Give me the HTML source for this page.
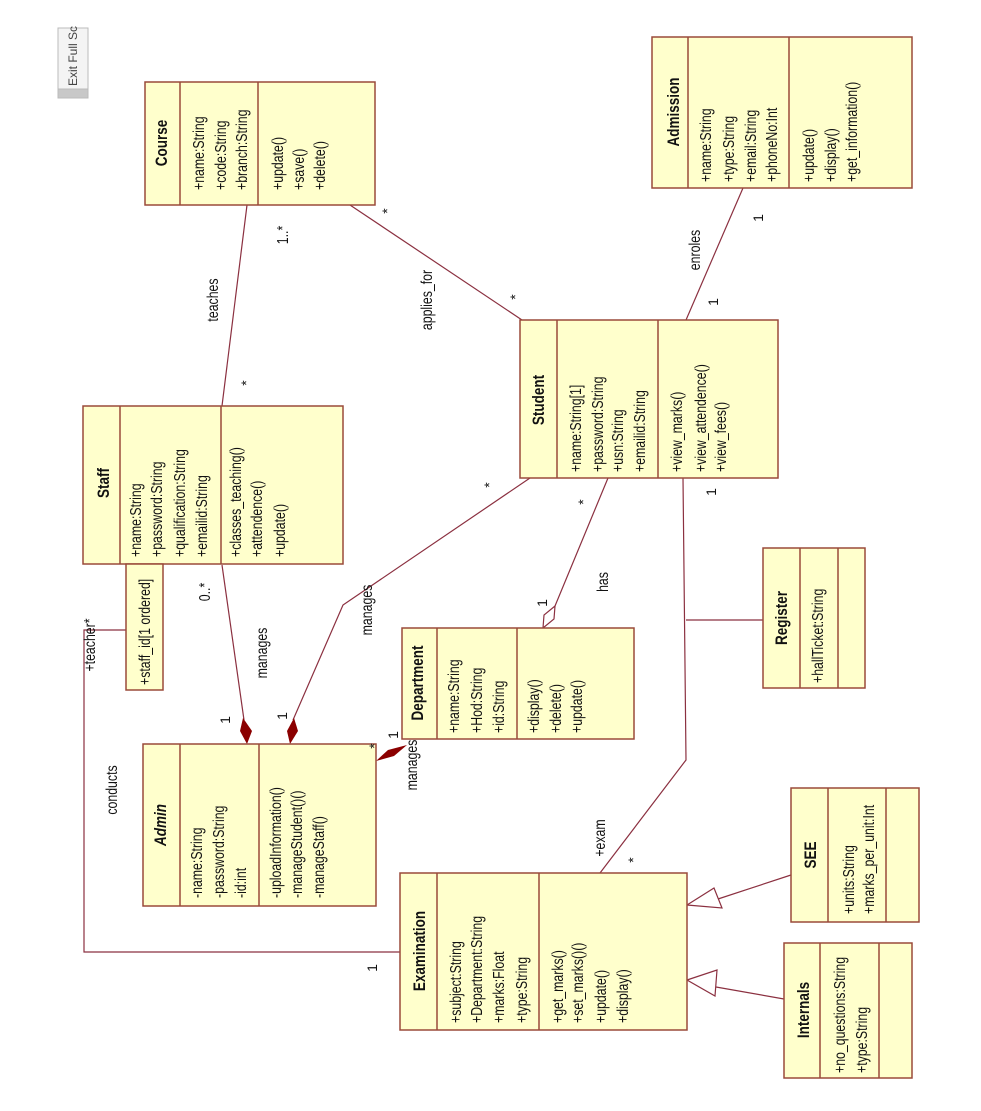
<!DOCTYPE html>
<html><head><meta charset="utf-8"><style>
html,body{margin:0;padding:0;background:#fff;}
svg{display:block;}
text{font-family:"Liberation Sans",sans-serif;font-size:14px;fill:#111;}
.t{font-weight:bold;font-size:15px;}
.b{fill:#ffffcc;stroke:#9a4a3a;stroke-width:1.5;}
.d{stroke:#9a4a3a;stroke-width:1.5;}
.l{stroke:#8b3040;stroke-width:1.2;fill:none;}
</style></head><body>
<svg width="981" height="1111" viewBox="0 0 981 1111" xmlns="http://www.w3.org/2000/svg">
<rect x="58" y="28" width="30" height="70" fill="#f4f4f4" stroke="#bbb"/>
<rect x="58" y="89" width="30" height="9" fill="#c8c8c8" stroke="#bbb"/>
<text transform="translate(77,86) rotate(-90)" style="font-size:12px;fill:#444">Exit Full Sc</text>

<g class="l">
<line x1="247" y1="205" x2="222" y2="406"/>
<line x1="347" y1="203" x2="522" y2="320"/>
<line x1="743" y1="188" x2="686" y2="320"/>
<polyline points="530,478 343,605 293,720"/>
<line x1="222" y1="565" x2="244" y2="720"/>
<polyline points="608,478 555,606"/>
<polyline points="683,478 686,760 600,873"/>
<line x1="686" y1="620" x2="763" y2="620"/>
<polyline points="127,630 84,630 84,952 401,952"/>
<line x1="791" y1="875" x2="718" y2="899"/>
<line x1="784" y1="999" x2="716" y2="987"/>
</g>
<polygon points="247,744 240,731 243,718 252,731" fill="#8b0000"/>
<polygon points="290,744 287,731 294,718 298,731" fill="#8b0000"/>
<polygon points="376,761 388,750 407,745 394,756" fill="#8b0000"/>
<polygon points="543,628 544,615 555,606 554,619" fill="#fff" stroke="#8b3040" stroke-width="1.2"/>
<polygon points="687,905 714,888 722,908" fill="#fff" stroke="#8b3040" stroke-width="1.2"/>
<polygon points="687,980 717,970 715,996" fill="#fff" stroke="#8b3040" stroke-width="1.2"/>

<!-- Course -->
<rect class="b" x="145" y="82" width="230" height="123"/>
<line class="d" x1="180" y1="82" x2="180" y2="205"/><line class="d" x1="258" y1="82" x2="258" y2="205"/>
<text class="t" text-anchor="middle" transform="translate(167,143) rotate(-90) scale(0.9,1.12)">Course</text>
<text transform="translate(204,190) rotate(-90) scale(0.88,1.12)">+name:String</text>
<text transform="translate(226,190) rotate(-90) scale(0.88,1.12)">+code:String</text>
<text transform="translate(247,190) rotate(-90) scale(0.88,1.12)">+branch:String</text>
<text transform="translate(283,190) rotate(-90) scale(0.88,1.12)">+update()</text>
<text transform="translate(304,190) rotate(-90) scale(0.88,1.12)">+save()</text>
<text transform="translate(325,190) rotate(-90) scale(0.88,1.12)">+delete()</text>

<!-- Admission -->
<rect class="b" x="652" y="37" width="260" height="151"/>
<line class="d" x1="688" y1="37" x2="688" y2="188"/><line class="d" x1="789" y1="37" x2="789" y2="188"/>
<text class="t" text-anchor="middle" transform="translate(679,112) rotate(-90) scale(0.9,1.12)">Admission</text>
<text transform="translate(711,182) rotate(-90) scale(0.88,1.12)">+name:String</text>
<text transform="translate(734,182) rotate(-90) scale(0.88,1.12)">+type:String</text>
<text transform="translate(756,182) rotate(-90) scale(0.88,1.12)">+email:String</text>
<text transform="translate(777,182) rotate(-90) scale(0.88,1.12)">+phoneNo:Int</text>
<text transform="translate(814,182) rotate(-90) scale(0.88,1.12)">+update()</text>
<text transform="translate(836,182) rotate(-90) scale(0.88,1.12)">+display()</text>
<text transform="translate(857,182) rotate(-90) scale(0.88,1.12)">+get_information()</text>

<!-- Staff -->
<rect class="b" x="83" y="406" width="260" height="158"/>
<line class="d" x1="120" y1="406" x2="120" y2="564"/><line class="d" x1="221" y1="406" x2="221" y2="564"/>
<text class="t" text-anchor="middle" transform="translate(109,483) rotate(-90) scale(0.9,1.12)">Staff</text>
<text transform="translate(141,557) rotate(-90) scale(0.88,1.12)">+name:String</text>
<text transform="translate(162,557) rotate(-90) scale(0.88,1.12)">+password:String</text>
<text transform="translate(185,557) rotate(-90) scale(0.88,1.12)">+qualification:String</text>
<text transform="translate(207,557) rotate(-90) scale(0.88,1.12)">+emailid:String</text>
<text transform="translate(241,557) rotate(-90) scale(0.88,1.12)">+classes_teaching()</text>
<text transform="translate(262,557) rotate(-90) scale(0.88,1.12)">+attendence()</text>
<text transform="translate(285,557) rotate(-90) scale(0.88,1.12)">+update()</text>
<rect class="b" x="126" y="564" width="37" height="126"/>
<text transform="translate(150,685) rotate(-90) scale(0.88,1.12)">+staff_id[1 ordered]</text>

<!-- Student -->
<rect class="b" x="520" y="320" width="258" height="158"/>
<line class="d" x1="557" y1="320" x2="557" y2="478"/><line class="d" x1="658" y1="320" x2="658" y2="478"/>
<text class="t" text-anchor="middle" transform="translate(544,400) rotate(-90) scale(0.9,1.12)">Student</text>
<text transform="translate(581,472) rotate(-90) scale(0.88,1.12)">+name:String[1]</text>
<text transform="translate(603,472) rotate(-90) scale(0.88,1.12)">+password:String</text>
<text transform="translate(623,472) rotate(-90) scale(0.88,1.12)">+usn:String</text>
<text transform="translate(645,472) rotate(-90) scale(0.88,1.12)">+emailid:String</text>
<text transform="translate(682,472) rotate(-90) scale(0.88,1.12)">+view_marks()</text>
<text transform="translate(706,472) rotate(-90) scale(0.88,1.12)">+view_attendence()</text>
<text transform="translate(726,472) rotate(-90) scale(0.88,1.12)">+view_fees()</text>

<!-- Register -->
<rect class="b" x="763" y="548" width="102" height="140"/>
<line class="d" x1="800" y1="548" x2="800" y2="688"/><line class="d" x1="838" y1="548" x2="838" y2="688"/>
<text class="t" text-anchor="middle" transform="translate(787,618) rotate(-90) scale(0.9,1.12)">Register</text>
<text transform="translate(823,683) rotate(-90) scale(0.88,1.12)">+hallTicket:String</text>

<!-- Department -->
<rect class="b" x="402" y="628" width="232" height="111"/>
<line class="d" x1="437" y1="628" x2="437" y2="739"/><line class="d" x1="517" y1="628" x2="517" y2="739"/>
<text class="t" text-anchor="middle" transform="translate(423,683) rotate(-90) scale(0.9,1.12)">Department</text>
<text transform="translate(459,733) rotate(-90) scale(0.88,1.12)">+name:String</text>
<text transform="translate(482,733) rotate(-90) scale(0.88,1.12)">+Hod:String</text>
<text transform="translate(504,733) rotate(-90) scale(0.88,1.12)">+id:String</text>
<text transform="translate(539,733) rotate(-90) scale(0.88,1.12)">+display()</text>
<text transform="translate(561,733) rotate(-90) scale(0.88,1.12)">+delete()</text>
<text transform="translate(582,733) rotate(-90) scale(0.88,1.12)">+update()</text>

<!-- Admin -->
<rect class="b" x="143" y="744" width="233" height="162"/>
<line class="d" x1="180" y1="744" x2="180" y2="906"/><line class="d" x1="259" y1="744" x2="259" y2="906"/>
<text class="t" text-anchor="middle" font-style="italic" transform="translate(166,825) rotate(-90) scale(0.9,1.12)">Admin</text>
<text transform="translate(202,898) rotate(-90) scale(0.88,1.12)">-name:String</text>
<text transform="translate(224,898) rotate(-90) scale(0.88,1.12)">-password:String</text>
<text transform="translate(246,898) rotate(-90) scale(0.88,1.12)">-id:int</text>
<text transform="translate(281,898) rotate(-90) scale(0.88,1.12)">-uploadInformation()</text>
<text transform="translate(302,898) rotate(-90) scale(0.88,1.12)">-manageStudent()()</text>
<text transform="translate(324,898) rotate(-90) scale(0.88,1.12)">-manageStaff()</text>

<!-- Examination -->
<rect class="b" x="400" y="873" width="287" height="157"/>
<line class="d" x1="437" y1="873" x2="437" y2="1030"/><line class="d" x1="539" y1="873" x2="539" y2="1030"/>
<text class="t" text-anchor="middle" transform="translate(425,951) rotate(-90) scale(0.9,1.12)">Examination</text>
<text transform="translate(461,1023) rotate(-90) scale(0.88,1.12)">+subject:String</text>
<text transform="translate(482,1023) rotate(-90) scale(0.88,1.12)">+Department:String</text>
<text transform="translate(504,1023) rotate(-90) scale(0.88,1.12)">+marks:Float</text>
<text transform="translate(527,1023) rotate(-90) scale(0.88,1.12)">+type:String</text>
<text transform="translate(563,1023) rotate(-90) scale(0.88,1.12)">+get_marks()</text>
<text transform="translate(583,1023) rotate(-90) scale(0.88,1.12)">+set_marks()()</text>
<text transform="translate(606,1023) rotate(-90) scale(0.88,1.12)">+update()</text>
<text transform="translate(628,1023) rotate(-90) scale(0.88,1.12)">+display()</text>

<!-- SEE -->
<rect class="b" x="791" y="788" width="128" height="134"/>
<line class="d" x1="828" y1="788" x2="828" y2="922"/><line class="d" x1="886" y1="788" x2="886" y2="922"/>
<text class="t" text-anchor="middle" transform="translate(816,855) rotate(-90) scale(0.9,1.12)">SEE</text>
<text transform="translate(854,914) rotate(-90) scale(0.88,1.12)">+units:String</text>
<text transform="translate(874,914) rotate(-90) scale(0.88,1.12)">+marks_per_unit:Int</text>

<!-- Internals -->
<rect class="b" x="784" y="943" width="128" height="135"/>
<line class="d" x1="820" y1="943" x2="820" y2="1078"/><line class="d" x1="879" y1="943" x2="879" y2="1078"/>
<text class="t" text-anchor="middle" transform="translate(809,1010) rotate(-90) scale(0.9,1.12)">Internals</text>
<text transform="translate(845,1073) rotate(-90) scale(0.88,1.12)">+no_questions:String</text>
<text transform="translate(867,1073) rotate(-90) scale(0.88,1.12)">+type:String</text>

<g text-anchor="middle">
<text transform="translate(218,300) rotate(-90) scale(0.88,1.12)">teaches</text>
<text transform="translate(288,235) rotate(-90) scale(0.88,1.12)">1..*</text>
<text transform="translate(251,383) rotate(-90)">*</text>
<text transform="translate(392,211) rotate(-90)">*</text>
<text transform="translate(432,300) rotate(-90) scale(0.88,1.12)">applies_for</text>
<text transform="translate(520,297) rotate(-90)">*</text>
<text transform="translate(700,250) rotate(-90) scale(0.88,1.12)">enroles</text>
<text transform="translate(763,218) rotate(-90)">1</text>
<text transform="translate(718,302) rotate(-90)">1</text>
<text transform="translate(494,485) rotate(-90)">*</text>
<text transform="translate(588,502) rotate(-90)">*</text>
<text transform="translate(608,582) rotate(-90) scale(0.88,1.12)">has</text>
<text transform="translate(547,603) rotate(-90)">1</text>
<text transform="translate(716,492) rotate(-90)">1</text>
<text transform="translate(210,592) rotate(-90) scale(0.88,1.12)">0..*</text>
<text transform="translate(267,653) rotate(-90) scale(0.88,1.12)">manages</text>
<text transform="translate(372,610) rotate(-90) scale(0.88,1.12)">manages</text>
<text transform="translate(95,645) rotate(-90) scale(0.88,1.12)">+teacher*</text>
<text transform="translate(230,720) rotate(-90)">1</text>
<text transform="translate(287,716) rotate(-90)">1</text>
<text transform="translate(398,735) rotate(-90)">1</text>
<text transform="translate(379,746) rotate(-90)">*</text>
<text transform="translate(417,765) rotate(-90) scale(0.88,1.12)">manages</text>
<text transform="translate(117,790) rotate(-90) scale(0.88,1.12)">conducts</text>
<text transform="translate(377,968) rotate(-90)">1</text>
<text transform="translate(605,838) rotate(-90) scale(0.88,1.12)">+exam</text>
<text transform="translate(638,860) rotate(-90)">*</text>
</g>
</svg>
</body></html>
